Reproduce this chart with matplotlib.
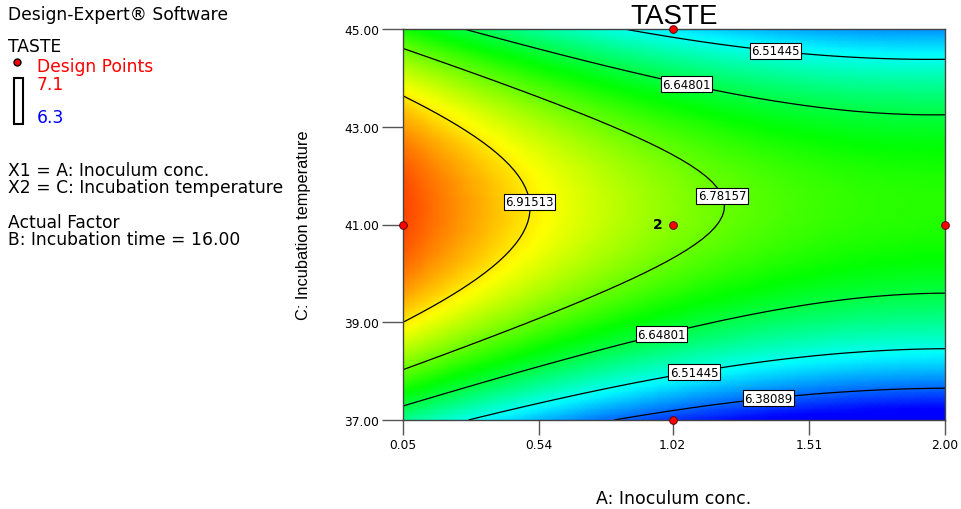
import matplotlib.pyplot as plt
import numpy as np
from matplotlib.colors import LinearSegmentedColormap, Normalize
from matplotlib.patches import Rectangle

# factor ranges (actual units)
A_range = [0.05, 2.00]      # A: Inoculum conc.
C_range = [37.00, 45.00]    # C: Incubation temperature
x_ticks = [0.05, 0.54, 1.02, 1.51, 2.00]
y_ticks = [37.00, 39.00, 41.00, 43.00, 45.00]

# quadratic model in coded units
b0 = 6.805
bA = -0.1595
bC = 0.0723
bAC = 0.0102
bAA = 0.080
bCC = -0.393

levels = [6.38089, 6.51445, 6.64801, 6.78157, 6.91513]
taste_low, taste_high = 6.3, 7.1

# design points
pts_A = [0.05, 1.02, 1.02, 2.00, 1.02]
pts_C = [41.00, 45.00, 41.00, 41.00, 37.00]

# where the contour labels sit
label_pos = [(1.392, 44.71), (1.075, 44.00), (0.446, 41.42), (1.169, 41.52),
             (0.975, 38.86), (1.093, 38.10), (1.363, 37.57)]

wide = ['DejaVu Sans']
plt.rcParams['font.family'] = ['Liberation Sans', 'DejaVu Sans']
fig = plt.figure(figsize=(9.62, 5.10), dpi=100)
ax = fig.add_axes([403/962, 1-421/510, 542/962, 391/510])

A = np.linspace(A_range[0], A_range[1], 90)
C = np.linspace(C_range[0], C_range[1], 70)
AA, CC = np.meshgrid(A, C)
a = (AA - 1.025) / 0.975
c = (CC - 41.0) / 4.0
Z = b0 + bA*a + bC*c + bAC*a*c + bAA*a**2 + bCC*c**2

cmap = LinearSegmentedColormap.from_list('de', ['#0000FF', '#00FFFF', '#00FF00', '#FFFF00', '#FF0000'])
ax.pcolormesh(AA, CC, Z, cmap=cmap, norm=Normalize(taste_low, taste_high), shading='gouraud')
cs = ax.contour(AA, CC, Z, levels=levels, colors='black', linewidths=0.9)
lbls = ax.clabel(cs, levels, inline=False, fmt='%.5f', fontsize=8.5, manual=label_pos)
for t in lbls:
    t.set_rotation(0)
    t.set_family(wide)
    t.set_bbox(dict(facecolor='white', edgecolor='black', pad=1.0, linewidth=0.8))
    t.set_zorder(5)

ax.plot(pts_A, pts_C, 'o', color='red', mec='#600000', mew=0.7, ms=5.5, clip_on=False, zorder=6)
ax.text(1.02 - 0.035, 41.0, '2', ha='right', va='center', fontsize=10, fontweight='bold', family=wide)

ax.set_xlim(A_range)
ax.set_ylim(C_range)
ax.set_xticks(x_ticks)
ax.set_xticklabels(['%.2f' % v for v in x_ticks], family=wide)
ax.set_yticks(y_ticks)
ax.set_yticklabels(['%.2f' % v for v in y_ticks], family=wide)
ax.tick_params(axis='x', length=11, width=1, color='#555555', labelsize=8.8, pad=2)
ax.tick_params(axis='y', length=15, width=1, color='#555555', labelsize=8.8, pad=2)
for s in ax.spines.values():
    s.set_color('#444444')
    s.set_linewidth(1)

ax.set_title('TASTE', fontsize=20, pad=2)
ax.set_xlabel('A: Inoculum conc.', fontsize=12.5, labelpad=27, family=wide)
ax.set_ylabel('C: Incubation temperature', fontsize=11.8, labelpad=24)

# left-hand info panel
fs = 12.3
fig.text(8/962, 1-15/510, 'Design-Expert® Software', fontsize=fs, va='center', family=wide)
fig.text(8/962, 1-47/510, 'TASTE', fontsize=fs, va='center', family=wide)
fig.lines.append(plt.Line2D([17/962], [1-63/510], marker='o', color='red', mec='black', ms=5,
                            transform=fig.transFigure, figure=fig))
fig.text(37/962, 1-67/510, 'Design Points', fontsize=fs, va='center', color='red', family=wide)
fig.patches.append(Rectangle((14/962, 1-125/510), 9/962, 46/510, fill=False, edgecolor='black',
                             linewidth=1.5, transform=fig.transFigure, figure=fig))
fig.text(37/962, 1-85/510, '7.1', fontsize=fs, va='center', color='red', family=wide)
fig.text(37/962, 1-118/510, '6.3', fontsize=fs, va='center', color='blue', family=wide)
fig.text(8/962, 1-171/510, 'X1 = A: Inoculum conc.', fontsize=fs, va='center', family=wide)
fig.text(8/962, 1-188/510, 'X2 = C: Incubation temperature', fontsize=fs, va='center', family=wide)
fig.text(8/962, 1-223/510, 'Actual Factor', fontsize=fs, va='center', family=wide)
fig.text(8/962, 1-240/510, 'B: Incubation time = 16.00', fontsize=fs, va='center', family=wide)

plt.savefig('out.png', dpi=100)
